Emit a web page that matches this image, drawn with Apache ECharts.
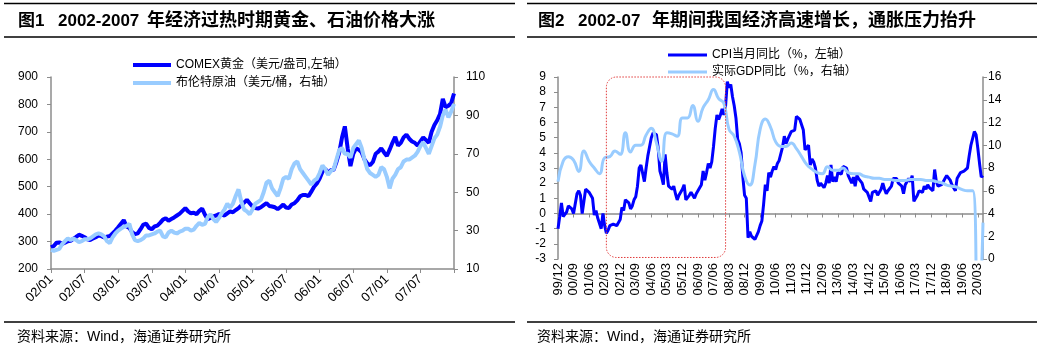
<!DOCTYPE html>
<html><head><meta charset="utf-8">
<script src="https://cdn.jsdelivr.net/npm/echarts@6/dist/echarts.min.js"></script>
<style>html,body{margin:0;padding:0;background:#fff}#c{width:1041px;height:348px}</style>
</head><body><div id="c"></div>
<script>
const FONT = "'Liberation Sans','Noto Sans CJK SC',sans-serif";

// ---------- Chart 1 data (semi-monthly, 2002-01 .. 2007-12, plus end point) ----------
const goldName = 'COMEX黄金（美元/盎司,左轴）';
const oilName = '布伦特原油（美元/桶，右轴）';
const goldValues = [
  279,284, 296,297, 292,296, 301,303, 310,317, 325,321, 316,308, 306,311, 316,322, 320,315, 318,320, 330,340,
  352,365, 378,355, 350,334, 327,330, 345,362, 365,350, 345,355, 358,368, 380,385, 376,382, 388,395, 402,412,
  422,410, 403,405, 400,412, 420,398, 382,386, 392,395, 400,398, 395,403, 410,407, 415,422, 432,442, 452,440,
  428,422, 420,425, 433,440, 430,428, 425,418, 426,435, 424,422, 435,440, 450,465, 470,470, 465,482, 500,512,
  530,555, 565,550, 560,562, 590,625, 680,720, 640,575, 620,640, 635,625, 600,585, 578,590, 620,628, 640,625,
  612,635, 660,682, 650,660, 680,690, 675,665, 660,650, 665,680, 670,660, 700,725, 742,765, 820,790, 795,805,
  840
];
const oilValues = [
  20,19.5, 20,20.5, 23,24.5, 26,25, 26,25, 24,24.5, 25.5,25.5, 26,27, 28,28.5, 28,27, 24.5,23.5, 26.5,28.5,
  30,31, 32,32.5, 33.5,28, 25,24.5, 25,26, 27.5,27.5, 28,28.5, 29.5,30, 27,26.5, 29,30, 29,28.5, 29.5,30,
  31,31, 30,30.5, 32.5,34, 33,33.5, 37,38.5, 36,34.5, 36.5,39, 41,44, 42,44, 48,51.5, 45,41, 40,38.5,
  41,44, 45,46, 50,55, 56,52, 50,48, 52,57, 58,57, 62,65, 66,62, 60,58, 56,54, 56,57,
  60,64, 62,59, 61,62, 67,72, 73,70, 70,68, 73,75, 77,73, 67,62, 60,59, 58,59, 63,62,
  58,52, 57,59, 62,63, 66,67, 67,68, 69,71, 74,76, 73,70, 74,78, 80,84, 90,93, 89,92,
  96
];
const c1Categories = [];
for (let y = 2002; y <= 2007; y++) for (let m = 1; m <= 12; m++) for (const d of ['01','16'])
  c1Categories.push(y + '-' + String(m).padStart(2,'0') + '-' + d);
c1Categories.push('2008-01-01');

// ---------- Chart 2 data (monthly 1999/12 .. 2020/06) ----------
const cpiName = 'CPI当月同比（%，左轴）';
const gdpName = '实际GDP同比（%，右轴）';
const cpiValues = [
  -1.0,
  -0.2,0.7,-0.2,-0.3,0.1,0.5,0.5,0.3,0.0,0.0,1.3,1.5,
  1.2,0.0,0.8,1.6,1.7,1.4,1.5,1.0,-0.1,0.2,-0.3,-0.3,
  -1.0,0.0,-0.8,-1.3,-1.1,-0.8,-0.9,-0.7,-0.7,-0.8,-0.7,-0.4,
  0.4,0.2,0.9,1.0,0.7,0.3,0.5,0.9,1.1,1.8,3.0,3.2,
  3.2,2.1,3.0,3.8,4.4,5.0,5.3,5.3,5.2,4.3,2.8,2.4,
  1.9,3.9,2.7,1.8,1.8,1.6,1.8,1.3,0.9,1.2,1.3,1.6,
  1.9,0.9,0.8,1.2,1.4,1.5,1.0,1.3,1.5,1.4,1.9,2.8,
  2.2,2.7,3.3,3.0,3.4,4.4,5.6,6.5,6.2,6.5,6.9,6.5,
  7.1,8.7,8.3,8.5,7.7,7.1,6.3,4.9,4.6,4.0,2.4,1.2,
  1.0,-1.6,-1.2,-1.5,-1.4,-1.7,-1.8,-1.2,-0.8,-0.5,0.6,1.9,
  1.5,2.7,2.4,2.8,3.1,2.9,3.3,3.5,3.6,4.4,5.1,4.6,
  4.9,4.9,5.4,5.3,5.5,6.4,6.5,6.2,6.1,5.5,4.2,4.1,
  4.5,3.2,3.6,3.4,3.0,2.2,1.8,2.0,1.9,1.7,2.0,2.5,
  2.0,3.2,2.1,2.4,2.1,2.7,2.7,2.6,3.1,3.2,3.0,2.5,
  2.5,2.0,2.4,1.8,2.5,2.3,2.3,2.0,1.6,1.6,1.4,1.5,
  0.8,1.4,1.4,1.5,1.2,1.4,1.6,2.0,1.6,1.3,1.5,1.6,
  1.8,2.3,2.3,2.3,2.0,1.9,1.8,1.3,1.9,2.1,2.3,2.1,
  2.5,0.8,0.9,1.2,1.5,1.5,1.4,1.8,1.6,1.9,1.7,1.8,
  1.5,2.9,2.1,1.8,1.8,1.9,2.1,2.3,2.5,2.5,2.2,1.9,
  1.7,1.5,2.3,2.5,2.7,2.7,2.8,2.8,3.0,3.8,4.5,4.5,
  5.4,5.2,4.3,3.3,2.4,2.5
];
// quarterly real GDP (from 99/12, every quarter end)
const gdpValues = [
  6.8,
  8.6,9.0,8.7,7.7,
  9.5,8.6,8.0,7.5,
  8.9,9.0,9.5,9.2,
  11.1,9.4,10.0,10.0,
  10.9,11.5,10.2,8.6,
  11.1,11.0,10.8,12.4,
  12.4,13.5,12.1,13.3,
  14.0,14.9,14.1,13.7,
  11.4,10.8,9.4,7.3,
  6.5,8.3,11.4,12.3,
  11.6,10.3,9.9,9.9,
  10.2,9.7,9.0,8.3,
  7.9,7.6,7.5,8.1,
  7.8,7.8,8.0,7.6,
  7.5,7.5,7.3,7.2,
  7.1,7.1,7.0,7.0,
  6.9,6.9,6.9,7.0,
  7.0,7.0,6.9,6.9,
  6.8,6.7,6.5,6.4,
  6.3,6.1,6.0,6.0,
  -6.8,3.2
];
const c2Categories = [];
{ let y = 1999, m = 12;
  while (y < 2020 || (y === 2020 && m <= 6)) {
    c2Categories.push(String(y % 100).padStart(2,'0') + '/' + String(m).padStart(2,'0'));
    m++; if (m > 12) { m = 1; y++; }
  } }
const gdpMonths = c2Categories.filter((_, i) => i % 3 === 0);
const gdpData = gdpMonths.map((c, i) => [c, gdpValues[i]]);

// annotation box range (chart 2)
const boxFrom = '02/04', boxTo = '08/01', boxTop = 9, boxBottom = -2.9;

const AX = '#8c8c8c';
const labelStyle = { color: '#000', fontSize: 12, fontFamily: FONT };

const chart = echarts.init(document.getElementById('c'), null, { renderer: 'canvas' });

function rule(id, x1, x2, y) {
  return { id, type: 'line', shape: { x1, y1: y, x2, y2: y }, style: { stroke: '#000', lineWidth: 1.5 }, silent: true };
}
function txt(id, x, y, text, size, bold) {
  return { id, type: 'text', x, y, style: { text, fontSize: size, fontWeight: bold ? 'bold' : 'normal', fontFamily: FONT, fill: '#000', textVerticalAlign: 'middle' }, silent: true };
}

chart.setOption({
  animation: false,
  textStyle: { fontFamily: FONT },
  grid: [
    { left: 51, right: 1041 - 454, top: 77, bottom: 348 - 269, containLabel: false },
    { left: 558, right: 1041 - 983, top: 77, bottom: 348 - 259, containLabel: false }
  ],
  legend: [
    { data: [goldName, oilName], left: 128, top: 54, orient: 'vertical', icon: 'rect', itemWidth: 38, itemHeight: 4, itemGap: 6,
      textStyle: { fontSize: 12, color: '#000', fontFamily: FONT } },
    { data: [cpiName, gdpName], left: 663, top: 44, orient: 'vertical', icon: 'rect', itemWidth: 39, itemHeight: 3, itemGap: 5,
      textStyle: { fontSize: 12, color: '#000', fontFamily: FONT } }
  ],
  xAxis: [
    { type: 'category', gridIndex: 0, data: c1Categories, boundaryGap: false,
      axisLine: { lineStyle: { color: AX, width: 1.5 } },
      axisTick: { interval: (i) => i % 12 === 0, length: 4, lineStyle: { color: AX } },
      axisLabel: Object.assign({}, labelStyle, { fontSize: 13, rotate: 45, margin: 8,
        interval: (i) => i % 12 === 0 && i < 144,
        formatter: (v) => v.slice(2, 4) + '/' + v.slice(5, 7) }) },
    { type: 'category', gridIndex: 1, data: c2Categories, boundaryGap: false,
      axisLine: { onZero: true, lineStyle: { color: AX, width: 1.5 } },
      axisTick: { interval: 8, length: 4, lineStyle: { color: AX } },
      axisLabel: { show: false } },
    { type: 'category', gridIndex: 1, data: c2Categories, boundaryGap: false, position: 'bottom',
      axisLine: { show: false, onZero: false }, axisTick: { show: false },
      axisLabel: Object.assign({}, labelStyle, { fontSize: 13, rotate: 90, margin: 4, interval: 8 }) }
  ],
  yAxis: [
    { type: 'value', gridIndex: 0, min: 200, max: 900, interval: 100, position: 'left',
      splitLine: { show: false }, axisLine: { show: true, lineStyle: { color: AX, width: 1.5 } },
      axisTick: { show: true, length: 4, lineStyle: { color: AX } }, axisLabel: Object.assign({}, labelStyle, { margin: 13 }) },
    { type: 'value', gridIndex: 0, min: 10, max: 110, interval: 20, position: 'right', alignTicks: false,
      splitLine: { show: false }, axisLine: { show: true, lineStyle: { color: AX, width: 1.5 } },
      axisTick: { show: true, length: 4, lineStyle: { color: AX } }, axisLabel: Object.assign({}, labelStyle, { margin: 12 }) },
    { type: 'value', gridIndex: 1, min: -3, max: 9, interval: 1, position: 'left',
      splitLine: { show: false }, axisLine: { show: true, lineStyle: { color: AX, width: 1.5 } },
      axisTick: { show: true, length: 4, lineStyle: { color: AX } }, axisLabel: Object.assign({}, labelStyle, { margin: 12 }) },
    { type: 'value', gridIndex: 1, min: 0, max: 16, interval: 2, position: 'right', alignTicks: false,
      splitLine: { show: false }, axisLine: { show: true, lineStyle: { color: AX, width: 1.5 } },
      axisTick: { show: true, length: 4, lineStyle: { color: AX } }, axisLabel: Object.assign({}, labelStyle, { margin: 5 }) }
  ],
  series: [
    { name: goldName, type: 'line', xAxisIndex: 0, yAxisIndex: 0, data: goldValues, symbol: 'none',
      color: '#0000ff', lineStyle: { color: '#0000ff', width: 4 } },
    { name: oilName, type: 'line', xAxisIndex: 0, yAxisIndex: 1, data: oilValues, symbol: 'none',
      color: '#99ccff', lineStyle: { color: '#99ccff', width: 4 } },
    { name: cpiName, type: 'line', xAxisIndex: 1, yAxisIndex: 2, data: cpiValues, symbol: 'none',
      color: '#0000ff', lineStyle: { color: '#0000ff', width: 3 } },
    { name: gdpName, type: 'line', xAxisIndex: 1, yAxisIndex: 3, data: gdpData, symbol: 'none', smooth: 0.5, clip: true,
      color: '#99ccff', lineStyle: { color: '#99ccff', width: 3 } }
  ],
  graphic: [
    rule('r1', 4, 515, 3.5), rule('r2', 4, 515, 37), rule('r3', 4, 515, 322),
    rule('r4', 527, 1037, 3.5), rule('r5', 527, 1037, 37), rule('r6', 527, 1037, 322),
    txt('t1a', 18, 21, '图1', 17, true), txt('t1b', 58, 21, '2002-2007', 17, true), txt('t1c', 147, 21, '年经济过热时期黄金、石油价格大涨', 18, true),
    txt('t2a', 538, 21, '图2', 17, true), txt('t2b', 578, 21, '2002-07', 17, true), txt('t2c', 652, 21, '年期间我国经济高速增长，通胀压力抬升', 18, true),
    txt('s1', 17, 337, '资料来源：Wind，海通证券研究所', 14, false),
    txt('s2', 537, 337, '资料来源：Wind，海通证券研究所', 14, false)
  ]
});

const bx1 = chart.convertToPixel({ xAxisIndex: 1 }, boxFrom);
const bx2 = chart.convertToPixel({ xAxisIndex: 1 }, boxTo);
const by1 = chart.convertToPixel({ yAxisIndex: 2 }, boxTop);
const by2 = chart.convertToPixel({ yAxisIndex: 2 }, boxBottom);
chart.setOption({
  graphic: [{ id: 'box', type: 'rect', shape: { x: bx1, y: by1, width: bx2 - bx1, height: by2 - by1, r: 10 },
    style: { fill: 'none', stroke: '#e03a3a', lineWidth: 1, lineDash: [1.5, 1.5] }, silent: true, z: 10 }]
});
</script></body></html>
